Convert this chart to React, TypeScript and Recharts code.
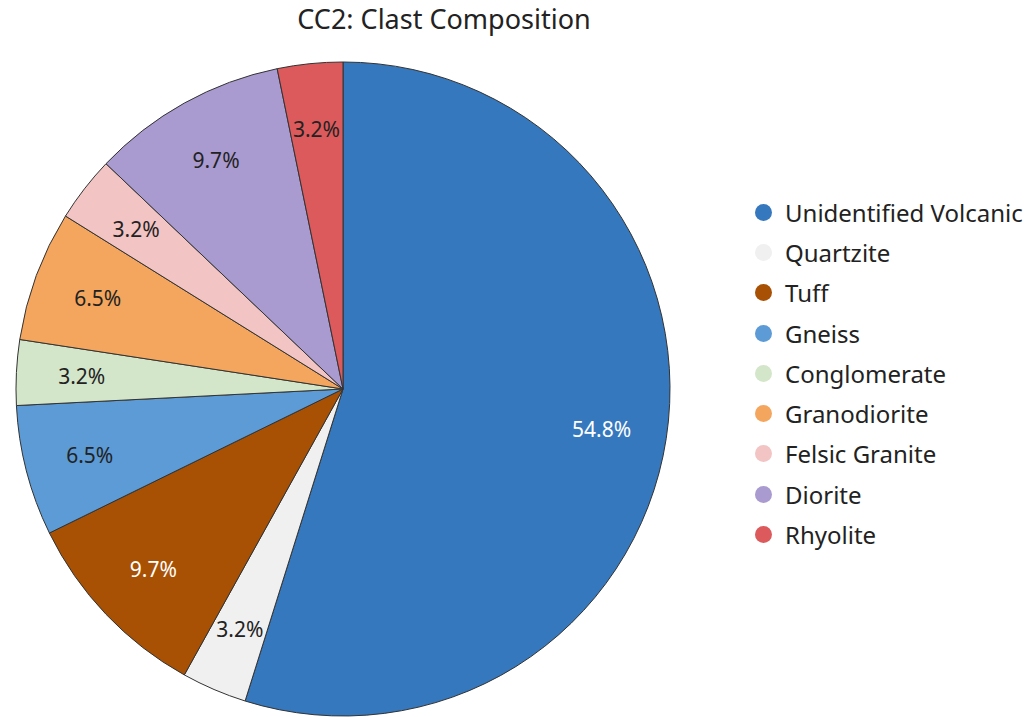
import React from "react";
import { Legend, Pie, PieChart } from "recharts";

const categories = [
  "Unidentified Volcanic",
  "Quartzite",
  "Tuff",
  "Gneiss",
  "Conglomerate",
  "Granodiorite",
  "Felsic Granite",
  "Diorite",
  "Rhyolite"
];

// clast counts (31 in total)
const counts = [17, 1, 3, 2, 1, 2, 1, 3, 1];

const COLORS = [
  "#3578be",
  "#f0f0f0",
  "#a85104",
  "#5c9bd6",
  "#d4e6ca",
  "#f4a65e",
  "#f2c4c3",
  "#a99ad0",
  "#dc5a5c"
];

const LABEL_COLORS = ["#ffffff", "#222", "#ffffff", "#222", "#222", "#222", "#222", "#222", "#222"];

const data = categories.map((name, i) => ({ name, value: counts[i], fill: COLORS[i] }));

const FONT = "'Noto Sans', sans-serif";
const RAD = Math.PI / 180;

const renderLabel = (props: any) => {
  const { cx, cy, midAngle, outerRadius, percent, index } = props;
  const r = outerRadius * 0.8;
  const x = cx + r * Math.cos(-midAngle * RAD);
  const y = cy + r * Math.sin(-midAngle * RAD);
  return (
    <text
      x={x}
      y={y}
      fill={LABEL_COLORS[index]}
      textAnchor="middle"
      dominantBaseline="central"
      fontSize={21}
      fontFamily={FONT}
    >
      {`${(percent * 100).toFixed(1)}%`}
    </text>
  );
};

const renderLegend = () => (
  <div style={{ fontFamily: FONT, fontSize: 24, color: "#222" }}>
    {categories.map((name, i) => (
      <div key={name} style={{ display: "flex", alignItems: "center", height: 40.3 }}>
        <span
          style={{
            width: 17,
            height: 17,
            borderRadius: "50%",
            background: COLORS[i],
            marginRight: 13,
            flexShrink: 0
          }}
        />
        <span>{name}</span>
      </div>
    ))}
  </div>
);

export default function App() {
  return (
    <div style={{ position: "relative", width: 1032, height: 717, background: "#fff" }}>
      <style>{"body{margin:0}"}</style>
      <div
        style={{
          position: "absolute",
          top: 0,
          left: 444,
          transform: "translateX(-50%)",
          fontFamily: FONT,
          fontSize: 27,
          color: "#222",
          whiteSpace: "nowrap"
        }}
      >
        CC2: Clast Composition
      </div>
      <PieChart width={1032} height={717} margin={{ top: 0, right: 0, bottom: 0, left: 0 }}>
        <Pie
          data={data}
          dataKey="value"
          nameKey="name"
          cx={343}
          cy={389}
          outerRadius={327}
          startAngle={90}
          endAngle={-270}
          stroke="#333"
          strokeWidth={1}
          label={renderLabel}
          labelLine={false}
          isAnimationActive={false}
        />
        <Legend
          layout="vertical"
          verticalAlign="top"
          align="right"
          content={renderLegend}
          wrapperStyle={{ left: 755, top: 192, width: 277 }}
        />
      </PieChart>
    </div>
  );
}
